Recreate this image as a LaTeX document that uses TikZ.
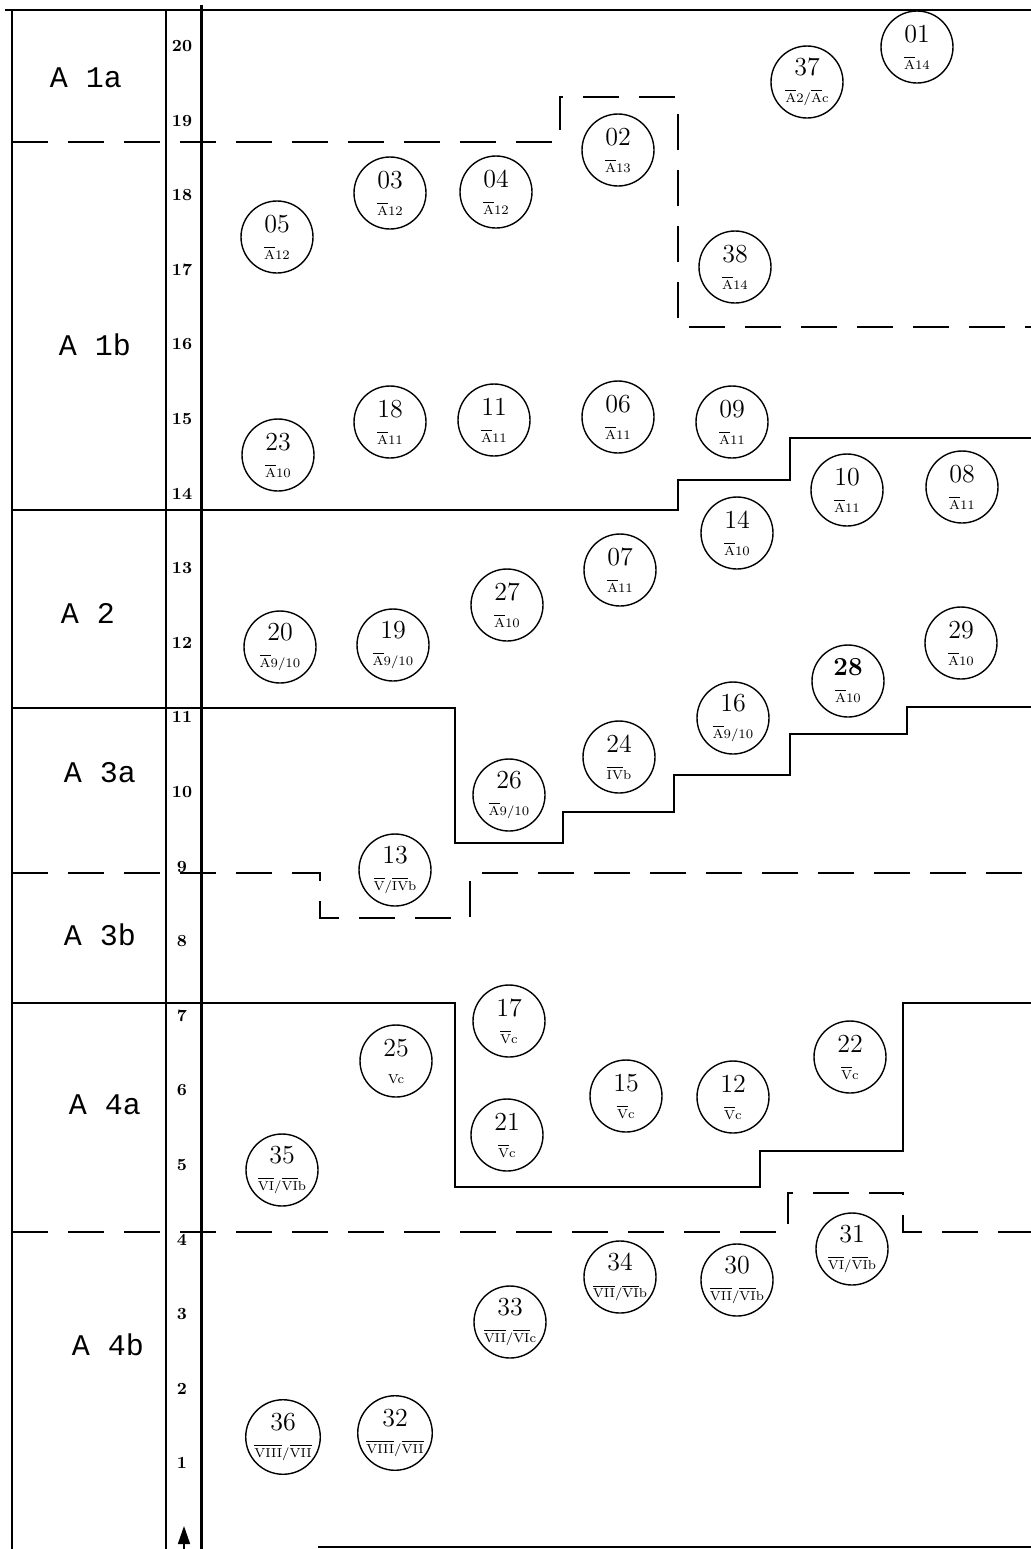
\documentclass[tikz,border=0pt]{standalone}
\usepackage{fontspec}
\newfontfamily\typefont{Liberation Mono}
\usetikzlibrary{arrows.meta}
\newcommand{\ovl}[1]{$\overline{\mbox{#1}}$}
\newcommand{\lab}[1]{{\fontsize{6.5}{7}\selectfont#1}}
\begin{document}
\begin{tikzpicture}[x=.5pt,y=-.5pt,
  find/.style={circle,draw,line width=.7pt,minimum size=36pt,inner sep=0pt,align=center,font=\fontsize{13}{13.5}\selectfont},
  layer/.style={font=\typefont\fontsize{15}{15}\selectfont},
  depth/.style={font=\bfseries\fontsize{8.5}{9}\selectfont},
  limit/.style={line width=1pt},
  loose/.style={line width=1pt,dash pattern=on 18pt off 10pt}]
  \useasboundingbox (0,0) rectangle (1031,1549);
  \draw[line width=1.3pt] (5,10)--(1031,10); \draw[line width=1.1pt] (12,10)--(12,1549);
  \draw[line width=.7pt] (166,10)--(166,1549); \draw[line width=1.5pt] (201,5)--(201,1549);
  \draw[line width=.8pt] (318,1547)--(1031,1547);
  \draw[loose] (12,142)--(560,142)--(560,97)--(678,97)--(678,327)--(1031,327);
  \draw[limit] (12,510)--(678,510)--(678,480)--(790,480)--(790,438)--(1031,438);
  \draw[limit] (12,708)--(455,708)--(455,843)--(563,843)--(563,812)--(674,812)--(674,775)--(790,775)--(790,734)--(907,734)--(907,707)--(1031,707);
  \draw[loose] (12,873)--(320,873)--(320,918)--(470,918)--(470,873)--(1031,873);
  \draw[limit] (12,1003)--(455,1003)--(455,1187)--(760,1187)--(760,1151)--(903,1151)--(903,1003)--(1031,1003);
  \draw[loose] (12,1232)--(788,1232)--(788,1193)--(903,1193)--(903,1232)--(1031,1232);
  \foreach \v in {1,...,20} {\node[depth] (d\v) at (182,{1538-74.6*\v}) {\v};}
  \coordinate (foot) at (184,1549); \coordinate (zero) at (184,1526);
  \draw[line width=.8pt,-{Triangle[width=6pt,length=9pt]}] (foot)--(zero);
  \node[layer] (a1a) at (86,78) {A 1a}; \node[layer] (a1b) at (95,345) {A 1b}; \node[layer] (a2) at (88,613) {A 2};
  \node[layer] (a3a) at (100,773) {A 3a}; \node[layer] (a3b) at (100,935) {A 3b}; \node[layer] (a4a) at (105,1105) {A 4a};
  \node[layer] (a4b) at (108,1345) {A 4b};
  \node[find] (c01) at (917,47) {01\\\lab{\ovl{A}14}}; \node[find] (c37) at (807,82) {37\\\lab{\ovl{A}2/\ovl{A}c}};
  \node[find] (c02) at (618,150) {02\\\lab{\ovl{A}13}}; \node[find] (c03) at (390,193) {03\\\lab{\ovl{A}12}};
  \node[find] (c04) at (496,192) {04\\\lab{\ovl{A}12}}; \node[find] (c05) at (277,237) {05\\\lab{\ovl{A}12}};
  \node[find] (c38) at (735,267) {38\\\lab{\ovl{A}14}};
  \node[find] (c18) at (390,422) {18\\\lab{\ovl{A}11}}; \node[find] (c11) at (494,420) {11\\\lab{\ovl{A}11}};
  \node[find] (c06) at (618,417) {06\\\lab{\ovl{A}11}}; \node[find] (c09) at (732,422) {09\\\lab{\ovl{A}11}};
  \node[find] (c23) at (278,455) {23\\\lab{\ovl{A}10}}; \node[find] (c10) at (847,490) {10\\\lab{\ovl{A}11}};
  \node[find] (c08) at (962,487) {08\\\lab{\ovl{A}11}}; \node[find] (c14) at (737,533) {14\\\lab{\ovl{A}10}};
  \node[find] (c07) at (620,570) {07\\\lab{\ovl{A}11}}; \node[find] (c27) at (507,605) {27\\\lab{\ovl{A}10}};
  \node[find] (c20) at (280,647) {20\\\lab{\ovl{A}9/10}}; \node[find] (c19) at (393,645) {19\\\lab{\ovl{A}9/10}};
  \node[find] (c29) at (961,643) {29\\\lab{\ovl{A}10}}; \node[find] (c28) at (848,681) {\textbf{28}\\\lab{\ovl{A}10}};
  \node[find] (c16) at (733,718) {16\\\lab{\ovl{A}9/10}}; \node[find] (c24) at (619,757) {24\\\lab{\ovl{IV}b}};
  \node[find] (c26) at (509,795) {26\\\lab{\ovl{A}9/10}}; \node[find] (c13) at (395,870) {13\\\lab{\ovl{V}/\ovl{IV}b}};
  \node[find] (c17) at (509,1021) {17\\\lab{\ovl{V}c}}; \node[find] (c25) at (396,1061) {25\\\lab{Vc}};
  \node[find] (c21) at (507,1135) {21\\\lab{\ovl{V}c}}; \node[find] (c15) at (626,1096) {15\\\lab{\ovl{V}c}};
  \node[find] (c12) at (733,1097) {12\\\lab{\ovl{V}c}}; \node[find] (c22) at (850,1057) {22\\\lab{\ovl{V}c}};
  \node[find] (c35) at (282,1170) {35\\\lab{\ovl{VI}/\ovl{VI}b}}; \node[find] (c31) at (852,1249) {31\\\lab{\ovl{VI}/\ovl{VI}b}};
  \node[find] (c34) at (620,1277) {34\\\lab{\ovl{VII}/\ovl{VI}b}}; \node[find] (c30) at (737,1280) {30\\\lab{\ovl{VII}/\ovl{VI}b}};
  \node[find] (c33) at (510,1322) {33\\\lab{\ovl{VII}/\ovl{VI}c}};
  \node[find] (c36) at (283,1437) {36\\\lab{\ovl{VIII}/\ovl{VII}}}; \node[find] (c32) at (395,1433) {32\\\lab{\ovl{VIII}/\ovl{VII}}};
\end{tikzpicture}
\end{document}
